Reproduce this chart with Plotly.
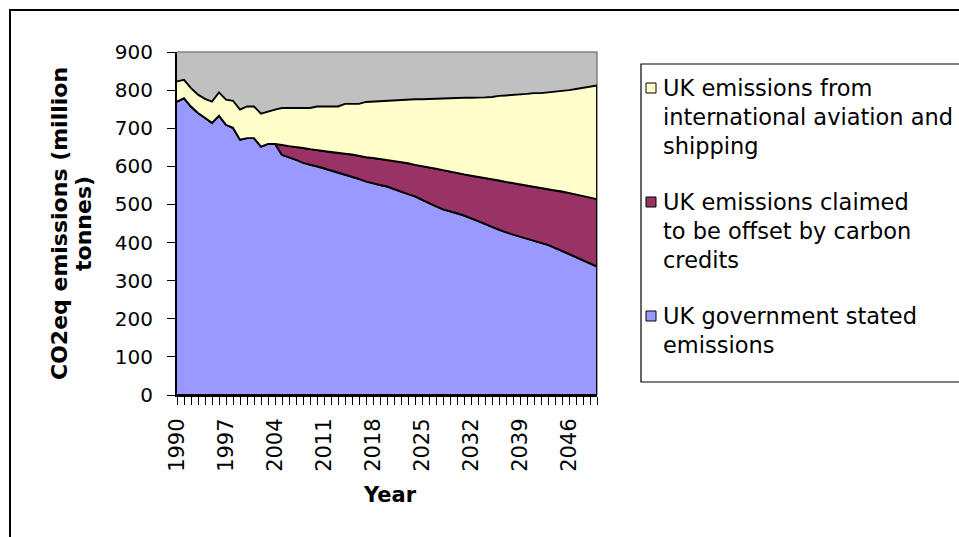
import plotly.graph_objects as go

# UK CO2-equivalent emissions, million tonnes, 1990-2050
years = list(range(1990, 2051))

govt_stated = [
    770, 779, 757, 740, 728, 714, 733, 709, 701, 670,
    674, 674, 652, 659, 659, 630, 624, 617, 609, 604,
    600, 595, 589, 584, 578, 572, 567, 560, 555, 551,
    547, 541, 534, 527, 521, 512, 504, 495, 487, 482,
    477, 471, 464, 457, 449, 441, 433, 427, 421, 416,
    410, 404, 399, 394, 386, 378, 370, 362, 354, 346,
    337,
]
offset_credits = [
    0, 0, 0, 0, 0, 0, 0, 0, 0, 0,
    0, 0, 0, 0, 0, 26, 29, 33, 39, 41,
    42, 45, 48, 51, 55, 59, 61, 64, 67, 69,
    70, 74, 77, 81, 83, 89, 93, 99, 103, 104,
    106, 108, 111, 115, 120, 125, 130, 132, 135, 136,
    139, 142, 144, 146, 151, 156, 161, 165, 169, 172,
    177,
]
aviation_shipping = [
    53, 48, 48, 48, 49, 56, 61, 66, 71, 79,
    83, 83, 86, 85, 90, 97, 100, 103, 105, 108,
    115, 117, 120, 122, 131, 133, 136, 145, 148, 152,
    156, 159, 164, 167, 172, 175, 180, 183, 188, 193,
    196, 201, 205, 208, 212, 216, 222, 227, 231, 236,
    241, 246, 249, 254, 259, 263, 269, 276, 283, 291,
    298,
]
tick_years = list(range(1990, 2051, 7))

series_names = [
    "UK government stated emissions",
    "UK emissions claimed to be offset by carbon credits",
    "UK emissions from international aviation and shipping",
]
series_colors = ["#9999FF", "#993366", "#FFFFCC"]
legend_lines = [
    ["UK emissions from", "international aviation and", "shipping"],
    ["UK emissions claimed", "to be offset by carbon", "credits"],
    ["UK government stated", "emissions"],
]
legend_colors = ["#FFFFCC", "#993366", "#9999FF"]

FONT = "DejaVu Sans"

# plot area in pixels
PL, PR, PT, PB = 177, 597, 52, 395
W, H = 959, 537


def px(x):
    return (x - PL) / (PR - PL)


def py(y):
    return (PB - y) / (PB - PT)


# cumulative stacks
lower = [0] * len(years)
stacks = []
for vals in (govt_stated, offset_credits, aviation_shipping):
    upper = [a + b for a, b in zip(lower, vals)]
    stacks.append((list(lower), upper))
    lower = upper

fig = go.Figure()
for (lo, up), name, col in zip(stacks, series_names, series_colors):
    fig.add_trace(go.Scatter(
        x=years + years[::-1],
        y=up + lo[::-1],
        fill="toself",
        fillcolor=col,
        mode="lines",
        line=dict(color="black", width=1.9),
        name=name,
        showlegend=False,
        hoverinfo="skip",
    ))

shapes = []
annotations = []

# plot-area border (top and right, grey)
shapes.append(dict(type="line", xref="paper", yref="paper", x0=0, x1=1, y0=1, y1=1,
                   line=dict(color="#808080", width=1.5), layer="below"))
shapes.append(dict(type="line", xref="paper", yref="paper", x0=1, x1=1, y0=0, y1=1,
                   line=dict(color="#808080", width=1.5), layer="below"))

# outer chart frame
shapes.append(dict(type="rect", xref="paper", yref="paper",
                   x0=px(10), x1=px(990), y0=py(10), y1=py(570),
                   line=dict(color="black", width=2), fillcolor="rgba(0,0,0,0)"))

# legend box
shapes.append(dict(type="rect", xref="paper", yref="paper",
                   x0=px(641), x1=px(990), y0=py(64), y1=py(382),
                   line=dict(color="black", width=1.2), fillcolor="rgba(0,0,0,0)"))

item_tops = [88, 202, 316]
line_pitch = 29
for lines, col, top in zip(legend_lines, legend_colors, item_tops):
    shapes.append(dict(type="rect", xref="paper", yref="paper",
                       x0=px(646), x1=px(656), y0=py(top - 5), y1=py(top + 5),
                       line=dict(color="black", width=1), fillcolor=col))
    for i, txt in enumerate(lines):
        annotations.append(dict(
            text=txt, xref="paper", yref="paper",
            x=px(661), y=py(top + i * line_pitch),
            xanchor="left", yanchor="middle", showarrow=False,
            font=dict(family=FONT, size=22.5, color="black"),
        ))

# axis titles
for txt, xc in (("CO2eq emissions (million", 59), ("tonnes)", 83)):
    annotations.append(dict(
        text=f"<b>{txt}</b>", xref="paper", yref="paper",
        x=px(xc), y=py(224), xanchor="center", yanchor="middle",
        textangle=-90, showarrow=False,
        font=dict(family=FONT, size=22, color="black"),
    ))
annotations.append(dict(
    text="<b>Year</b>", xref="paper", yref="paper",
    x=px(390), y=py(495), xanchor="center", yanchor="middle",
    showarrow=False, font=dict(family=FONT, size=21, color="black"),
))

fig.update_layout(
    width=W, height=H,
    margin=dict(l=PL, r=W - PR, t=PT, b=H - PB),
    paper_bgcolor="white",
    plot_bgcolor="#C0C0C0",
    font=dict(family=FONT, color="black"),
    shapes=shapes,
    annotations=annotations,
    showlegend=False,
    xaxis=dict(
        range=[1990, 2050],
        tickmode="array",
        tickvals=tick_years,
        ticktext=[str(y) for y in tick_years],
        tickangle=-90,
        ticks="outside", ticklen=8, tickcolor="black", tickwidth=1,
        minor=dict(tickmode="linear", tick0=1990, dtick=1, ticks="outside",
                   ticklen=8, tickcolor="black", tickwidth=1),
        showline=True, linecolor="black", linewidth=2,
        showgrid=False, zeroline=False,
        tickfont=dict(family=FONT, size=21, color="black"),
        ticklabelstandoff=5,
    ),
    yaxis=dict(
        range=[0, 900],
        tickmode="linear", tick0=0, dtick=100,
        ticks="outside", ticklen=8, tickcolor="black", tickwidth=1,
        showline=True, linecolor="black", linewidth=2,
        showgrid=False, zeroline=False,
        tickfont=dict(family=FONT, size=20, color="black"),
        ticklabelstandoff=10,
    ),
)

fig.write_html("out.html")
